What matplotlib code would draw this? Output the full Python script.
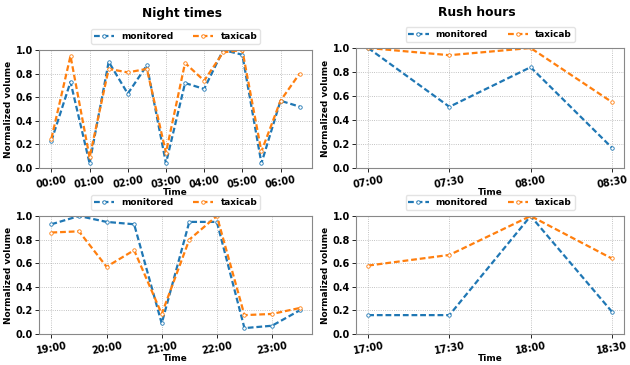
import numpy as np
import matplotlib
matplotlib.use("Agg")
import matplotlib.pyplot as plt

# night times, 30 min steps from 00:00
night_times = ["00:00", "00:30", "01:00", "01:30", "02:00", "02:30", "03:00",
               "03:30", "04:00", "04:30", "05:00", "05:30", "06:00", "06:30"]
night_monitored = [0.23, 0.73, 0.04, 0.90, 0.63, 0.87, 0.04, 0.72, 0.67, 1.00, 0.96, 0.04, 0.57, 0.52]
night_taxicab = [0.25, 0.95, 0.09, 0.84, 0.81, 0.84, 0.13, 0.89, 0.74, 0.98, 1.00, 0.14, 0.57, 0.80]

# evening, 30 min steps from 19:00
evening_times = ["19:00", "19:30", "20:00", "20:30", "21:00",
                 "21:30", "22:00", "22:30", "23:00", "23:30"]
evening_monitored = [0.93, 1.00, 0.95, 0.93, 0.09, 0.95, 0.95, 0.05, 0.07, 0.20]
evening_taxicab = [0.86, 0.87, 0.57, 0.71, 0.17, 0.80, 1.00, 0.16, 0.17, 0.22]

morning_rush_times = ["07:00", "07:30", "08:00", "08:30"]
morning_rush_monitored = [1.00, 0.51, 0.84, 0.17]
morning_rush_taxicab = [1.00, 0.94, 1.00, 0.55]

evening_rush_times = ["17:00", "17:30", "18:00", "18:30"]
evening_rush_monitored = [0.16, 0.16, 1.00, 0.19]
evening_rush_taxicab = [0.58, 0.67, 1.00, 0.64]

W, H = 630, 365
fig = plt.figure(figsize=(6.3, 3.65), dpi=100)


def px_axes(x0, x1, y0, y1):
    return fig.add_axes([x0 / W, 1 - y1 / H, (x1 - x0) / W, (y1 - y0) / H])


def draw(ax, labels, monitored, taxicab, step):
    x = np.arange(len(labels))
    for vals, name, col in [(monitored, "monitored", "#1f77b4"), (taxicab, "taxicab", "#ff7f0e")]:
        ax.plot(x, vals, ls=(0, (2.6, 1.3)), lw=1.6, color=col, marker="o", ms=2.5,
                mfc="white", mew=0.6, label=name)
    ax.set_ylim(0, 1)
    ax.set_xticks(x[::step])
    ax.set_xticklabels(labels[::step], rotation=10, fontsize=7, fontweight="bold")
    ax.set_yticks(np.arange(0, 1.01, 0.2))
    ax.set_yticklabels([f"{v:.1f}" for v in np.arange(0, 1.01, 0.2)], fontsize=7, fontweight="bold")
    ax.tick_params(length=3, pad=1.5, width=0.6)
    ax.grid(True, ls=":", lw=0.6, color="#b0b0b0")
    for s in ax.spines.values():
        s.set_color("#888888")
    ax.set_xlabel("Time", fontsize=6.4, fontweight="bold", labelpad=-1)
    ax.set_ylabel("Normalized volume", fontsize=6.4, fontweight="bold", labelpad=1.5)
    ax.legend(loc="lower center", bbox_to_anchor=(0.5, 1.015), ncol=2, frameon=True,
              prop={"size": 6.4, "weight": "bold"}, handlelength=2.3, columnspacing=2.2,
              borderpad=0.3, edgecolor="#dddddd", fancybox=True)


ax1 = px_axes(39, 312, 50, 168)
draw(ax1, night_times, night_monitored, night_taxicab, 2)
ax2 = px_axes(356, 624, 48, 168)
draw(ax2, morning_rush_times, morning_rush_monitored, morning_rush_taxicab, 1)
ax3 = px_axes(39, 312, 216, 334)
draw(ax3, evening_times, evening_monitored, evening_taxicab, 2)
ax4 = px_axes(356, 624, 216, 334)
draw(ax4, evening_rush_times, evening_rush_monitored, evening_rush_taxicab, 1)

fig.text(182 / W, 1 - 13 / H, "Night times", ha="center", va="center", fontsize=8.8, fontweight="bold")
fig.text(477 / W, 1 - 13 / H, "Rush hours", ha="center", va="center", fontsize=8.8, fontweight="bold")

fig.savefig("out.png", dpi=100)
